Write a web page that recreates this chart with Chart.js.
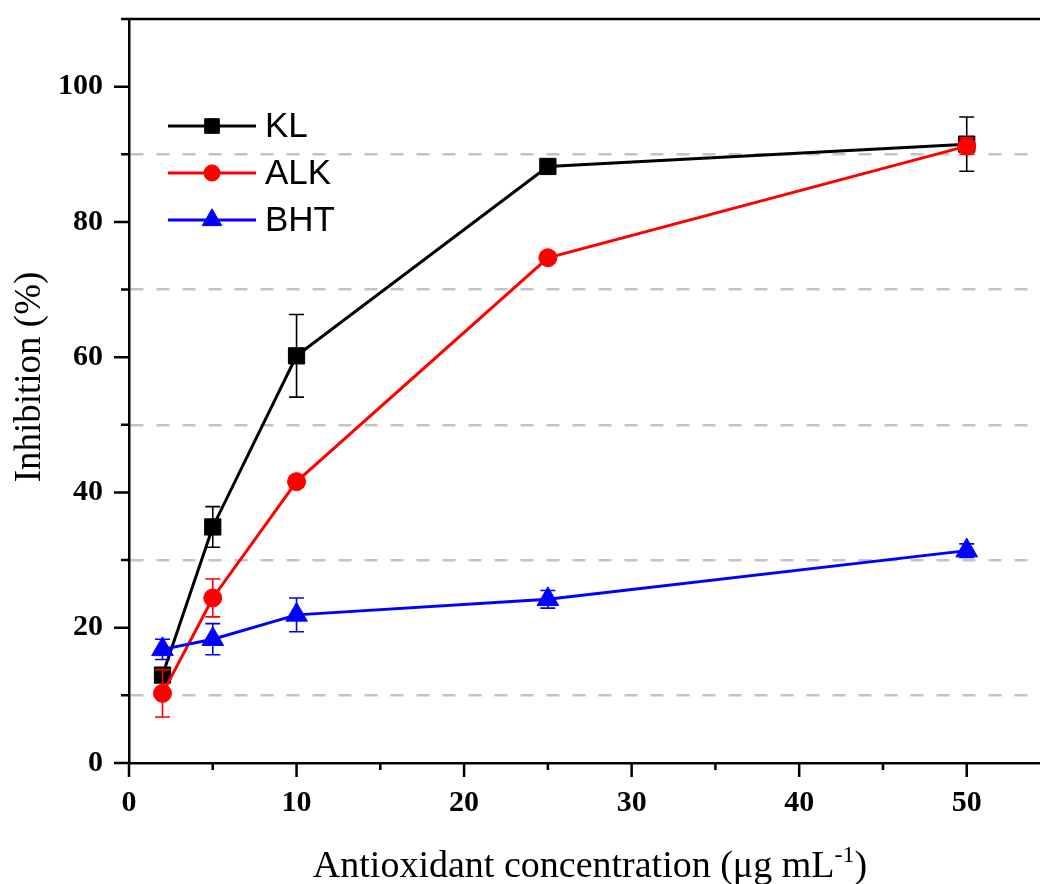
<!DOCTYPE html>
<html>
<head>
<meta charset="utf-8">
<script src="https://cdn.jsdelivr.net/npm/chart.js@4"></script>
<style>
  html, body { margin: 0; padding: 0; background: #fff; }
  #wrap { width: 1040px; height: 884px; overflow: hidden; position: relative; }
  #chart { display: block; }
</style>
</head>
<body>
<div id="wrap"><canvas id="chart" width="1064" height="884"></canvas></div>
<script>
// concentrations (ug/mL) and inhibition (%) with standard deviations
const concentrations = [2, 5, 10, 25, 50];
const klValues  = [13.0, 34.9, 60.2, 88.2, 91.5];
const klErrors  = [1.0, 3.0, 6.1, 0.6, 4.0];
const alkValues = [10.3, 24.4, 41.6, 74.7, 91.2];
const alkErrors = [3.5, 2.8, 0.8, 0.8, 1.2];
const bhtValues = [16.8, 18.3, 21.9, 24.2, 31.4];
const bhtErrors = [1.5, 2.3, 2.5, 1.3, 1.0];

const xLabelTicks = [0, 10, 20, 30, 40, 50];
const yLabelTicks = [0, 20, 40, 60, 80, 100];
const guideLevels = [10, 30, 50, 70, 90];

const toPoints = vals => concentrations.map((x, i) => ({ x, y: vals[i] }));

// later series sit on top of earlier ones
function series(label, vals, errs, color, style, radius, width, order) {
  return {
    label,
    data: toPoints(vals),
    errors: errs,
    order,
    borderColor: color,
    backgroundColor: color,
    pointBackgroundColor: color,
    pointBorderColor: color,
    pointBorderWidth: 1,
    pointStyle: style,
    pointRadius: radius,
    borderWidth: width,
    tension: 0,
    fill: false,
  };
}

// keep the plot box fixed: no extra room for half-height edge labels
function noEdgePadding(s) {
  s.paddingTop = 0;
  s.paddingBottom = 0;
  s.paddingLeft = 0;
  s.paddingRight = 0;
}

// error bars on top of each series' markers
const errorBars = {
  id: "errorBars",
  afterDatasetDraw(chart, args) {
    const { ctx, scales: { x, y } } = chart;
    const ds = chart.data.datasets[args.index];
    ctx.save();
    ctx.strokeStyle = ds.borderColor;
    ctx.lineWidth = 1.6;
    ds.data.forEach((p, i) => {
      const e = ds.errors[i];
      const px = x.getPixelForValue(p.x);
      const top = y.getPixelForValue(p.y + e);
      const bot = y.getPixelForValue(p.y - e);
      ctx.beginPath();
      ctx.moveTo(px, top); ctx.lineTo(px, bot);
      ctx.moveTo(px - 7.5, top); ctx.lineTo(px + 7.5, top);
      ctx.moveTo(px - 7.5, bot); ctx.lineTo(px + 7.5, bot);
      ctx.stroke();
    });
    ctx.restore();
  },
};

// top frame line and outward tick marks
const frame = {
  id: "frame",
  afterDraw(chart) {
    const { ctx, chartArea: a, scales: { x, y } } = chart;
    ctx.save();
    ctx.strokeStyle = "#000";
    ctx.lineWidth = 2.5;
    ctx.beginPath();
    ctx.moveTo(a.left, a.top); ctx.lineTo(a.right, a.top);
    y.ticks.forEach(t => {
      const py = y.getPixelForValue(t.value);
      const len = yLabelTicks.includes(t.value) ? 15 : 8;
      ctx.moveTo(a.left - len, py); ctx.lineTo(a.left, py);
    });
    x.ticks.forEach(t => {
      const px = x.getPixelForValue(t.value);
      const len = xLabelTicks.includes(t.value) ? 14 : 7;
      ctx.moveTo(px, a.bottom); ctx.lineTo(px, a.bottom + len);
    });
    ctx.stroke();
    ctx.restore();
  },
};

// legend: line with marker in the middle, then the name
const legendBox = {
  id: "legendBox",
  afterDraw(chart) {
    const { ctx } = chart;
    const rows = [126, 173, 220];
    ctx.save();
    chart.data.datasets.forEach((ds, i) => {
      const yy = rows[i];
      ctx.strokeStyle = ds.borderColor;
      ctx.fillStyle = ds.borderColor;
      ctx.lineWidth = ds.borderWidth;
      ctx.beginPath();
      ctx.moveTo(168, yy); ctx.lineTo(256, yy);
      ctx.stroke();
      ctx.lineWidth = 1;
      Chart.helpers.drawPoint(ctx, {
        pointStyle: ds.pointStyle,
        radius: ds.pointRadius * 0.9,
        rotation: 0,
        borderWidth: 1,
      }, 212, yy);
      ctx.fillStyle = "#000";
      ctx.font = "35px 'Liberation Sans', Arial, sans-serif";
      ctx.textBaseline = "middle";
      ctx.textAlign = "left";
      ctx.fillText(ds.label, 265, yy + 1);
    });
    ctx.restore();
  },
};

// axis titles, the x one carries a superscript
const axisTitles = {
  id: "axisTitles",
  afterDraw(chart) {
    const { ctx } = chart;
    ctx.save();
    ctx.fillStyle = "#000";
    ctx.font = "37px 'Liberation Serif', 'Times New Roman', serif";
    ctx.textBaseline = "alphabetic";
    ctx.textAlign = "center";
    ctx.translate(40, 377);
    ctx.rotate(-Math.PI / 2);
    ctx.fillText("Inhibition (%)", 0, 0);
    ctx.restore();

    ctx.save();
    ctx.fillStyle = "#000";
    const main = "Antioxidant concentration (\u03bcg mL";
    const sup = "-1";
    const tail = ")";
    const big = "38px 'Liberation Serif', 'Times New Roman', serif";
    const small = "24px 'Liberation Serif', 'Times New Roman', serif";
    ctx.font = big;
    const w1 = ctx.measureText(main).width;
    const w3 = ctx.measureText(tail).width;
    ctx.font = small;
    const w2 = ctx.measureText(sup).width;
    const total = w1 + w2 + w3;
    let xx = 590 - total / 2;
    const base = 877;
    ctx.textAlign = "left";
    ctx.textBaseline = "alphabetic";
    ctx.font = big;
    ctx.fillText(main, xx, base);
    xx += w1;
    ctx.font = small;
    ctx.fillText(sup, xx, base - 15);
    xx += w2;
    ctx.font = big;
    ctx.fillText(tail, xx, base);
    ctx.restore();
  },
};

const tickFont = { family: "'Liberation Serif', 'Times New Roman', serif", size: 30, weight: "bold" };

new Chart(document.getElementById("chart"), {
  type: "line",
  data: {
    datasets: [
      series("KL", klValues, klErrors, "#000000", "rect", 11.5, 3, 3),
      series("ALK", alkValues, alkErrors, "#ff0000", "circle", 9, 3, 2),
      series("BHT", bhtValues, bhtErrors, "#0000ff", "triangle", 12.5, 3, 1),
    ],
  },
  options: {
    responsive: false,
    animation: false,
    devicePixelRatio: 1,
    layout: { padding: { top: 19, left: 0, right: 0, bottom: 0 } },
    plugins: { legend: { display: false }, tooltip: { enabled: false } },
    scales: {
      x: {
        type: "linear",
        min: 0,
        max: 55,
        afterFit: s => { s.height = 121; noEdgePadding(s); },
        grid: { display: false, drawTicks: false },
        border: { display: true, color: "#000", width: 2.5 },
        ticks: {
          stepSize: 5,
          autoSkip: false,
          maxRotation: 0,
          padding: 22,
          color: "#000",
          font: tickFont,
          callback: v => (xLabelTicks.includes(v) ? String(v) : ""),
        },
      },
      y: {
        min: 0,
        max: 110,
        afterFit: s => { s.width = 129; noEdgePadding(s); },
        grid: {
          drawTicks: false,
          lineWidth: 2.5,
          color: c => (guideLevels.includes(c.tick.value) ? "#c3c3c3" : "rgba(0,0,0,0)"),
        },
        border: { display: true, color: "#000", width: 2.5, dash: [13, 13] },
        ticks: {
          stepSize: 10,
          autoSkip: false,
          padding: 26,
          color: "#000",
          font: tickFont,
          callback: v => (yLabelTicks.includes(v) ? String(v) : ""),
        },
      },
    },
  },
  plugins: [errorBars, frame, legendBox, axisTitles],
});
</script>
</body>
</html>
